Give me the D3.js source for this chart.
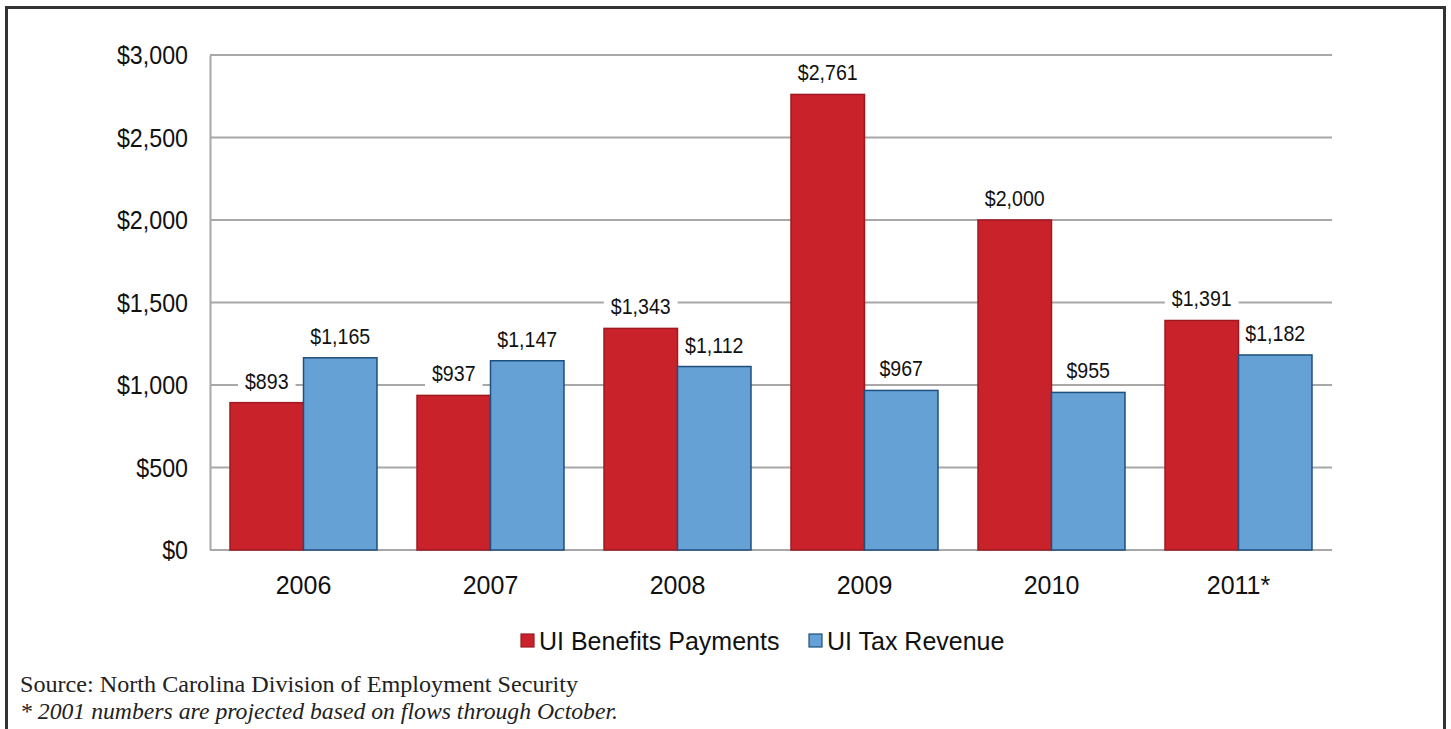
<!DOCTYPE html>
<html>
<head>
<meta charset="utf-8">
<script src="https://cdn.jsdelivr.net/npm/d3@7"></script>
<style>
  html, body { margin: 0; padding: 0; background: #fff; }
  svg { display: block; }
</style>
</head>
<body>
<svg id="chart" width="1451" height="729"></svg>
<script>
// UI benefits paid vs. UI tax collected, North Carolina, millions of dollars
const years = ["2006", "2007", "2008", "2009", "2010", "2011*"];
const benefitsPayments = [893, 937, 1343, 2761, 2000, 1391];
const taxRevenue = [1165, 1147, 1112, 967, 955, 1182];
const yTicks = [0, 500, 1000, 1500, 2000, 2500, 3000];
const seriesNames = ["UI Benefits Payments", "UI Tax Revenue"];
const sourceNote = "Source: North Carolina Division of Employment Security";
const footNote = "* 2001 numbers are projected based on flows through October.";

const series = [
  { name: seriesNames[0], values: benefitsPayments, fill: "#c9222a", stroke: "#9e1a20" },
  { name: seriesNames[1], values: taxRevenue, fill: "#66a1d6", stroke: "#1f4f7c" }
];

const svg = d3.select("#chart");
const plot = { left: 210, right: 1332, top: 55, bottom: 550 };
const sans = "'Liberation Sans', Arial, Helvetica, sans-serif";
const serif = "'Liberation Serif', 'DejaVu Serif', serif";
const fmt = d3.format(",");

// squeeze text horizontally a little so taller glyphs keep their width
function condense(sel, factor) {
  sel.each(function () {
    const w = this.getComputedTextLength();
    d3.select(this).attr("textLength", w * factor).attr("lengthAdjust", "spacingAndGlyphs");
  });
}

// outer frame
svg.append("rect")
  .attr("x", 6.5).attr("y", 7.5)
  .attr("width", 1438).attr("height", 760)
  .attr("fill", "none").attr("stroke", "#333").attr("stroke-width", 3);

const x0 = d3.scaleBand().domain(years)
  .range([plot.left, plot.right]).paddingInner(0.214).paddingOuter(0.107);
const x1 = d3.scaleBand().domain(seriesNames).range([0, x0.bandwidth()]);
const y = d3.scaleLinear().domain([0, 3000]).range([plot.bottom, plot.top]);

// horizontal gridlines
svg.append("g").selectAll("line").data(yTicks.filter(t => t > 0)).join("line")
  .attr("x1", plot.left).attr("x2", plot.right)
  .attr("y1", d => y(d)).attr("y2", d => y(d))
  .attr("stroke", "#a8a8a8").attr("stroke-width", 2);

// y axis
const yAxis = svg.append("g")
  .attr("transform", `translate(${plot.left},0)`)
  .call(d3.axisLeft(y).tickValues(yTicks).tickSize(0).tickPadding(22)
    .tickFormat(d => "$" + fmt(d)));
yAxis.select(".domain").attr("stroke", "#a8a8a8").attr("stroke-width", 2);
yAxis.selectAll("text")
  .attr("font-family", sans).attr("font-size", 25).attr("fill", "#111")
  .attr("dy", "0.35em")
  .call(condense, 0.93);

// x axis
const xAxis = svg.append("g")
  .attr("transform", `translate(0,${plot.bottom})`)
  .call(d3.axisBottom(x0).tickSize(0).tickPadding(26));
xAxis.select(".domain").attr("stroke", "#a8a8a8").attr("stroke-width", 2)
  .attr("d", `M${plot.left},0H${plot.right}`);
xAxis.selectAll("text")
  .attr("font-family", sans).attr("font-size", 25).attr("fill", "#111");

// value labels: white backings go under the bars so only gridlines break
const backLayer = svg.append("g");
const barLayer = svg.append("g");
const textLayer = svg.append("g");

series.forEach(s => {
  barLayer.append("g").selectAll("rect").data(years).join("rect")
    .attr("x", d => x0(d) + x1(s.name))
    .attr("y", (d, i) => y(s.values[i]))
    .attr("width", x1.bandwidth())
    .attr("height", (d, i) => y(0) - y(s.values[i]))
    .attr("fill", s.fill)
    .attr("stroke", s.stroke)
    .attr("stroke-width", 1.5);

  years.forEach((yr, i) => {
    const cx = x0(yr) + x1(s.name) + x1.bandwidth() / 2;
    const t = textLayer.append("text")
      .attr("x", cx).attr("y", y(s.values[i]) - 14)
      .attr("text-anchor", "middle")
      .attr("font-family", sans).attr("font-size", 21.5).attr("fill", "#111")
      .text("$" + fmt(s.values[i]))
      .call(condense, 0.91);
    const b = t.node().getBBox();
    backLayer.append("rect")
      .attr("x", b.x - 7).attr("y", b.y)
      .attr("width", b.width + 14).attr("height", b.height)
      .attr("fill", "#fff");
  });
});

// legend
const legend = svg.append("g").attr("transform", "translate(0,641)");
const legendItems = [
  { s: series[0], x: 521 },
  { s: series[1], x: 809 }
];
legendItems.forEach(({ s, x }) => {
  legend.append("rect")
    .attr("x", x).attr("y", -7).attr("width", 13).attr("height", 13)
    .attr("fill", s.fill).attr("stroke", s.stroke).attr("stroke-width", 1.2);
  legend.append("text")
    .attr("x", x + 18).attr("y", 0).attr("dy", "0.35em")
    .attr("font-family", sans).attr("font-size", 25).attr("fill", "#111")
    .text(s.name);
});

// source and footnote
svg.append("text")
  .attr("x", 20).attr("y", 692)
  .attr("font-family", serif).attr("font-size", 23).attr("fill", "#222")
  .attr("textLength", 558).attr("lengthAdjust", "spacingAndGlyphs")
  .text(sourceNote);
svg.append("text")
  .attr("x", 20).attr("y", 719)
  .attr("font-family", serif).attr("font-style", "italic")
  .attr("font-size", 23).attr("fill", "#222")
  .attr("textLength", 598).attr("lengthAdjust", "spacingAndGlyphs")
  .text(footNote);
</script>
</body>
</html>
